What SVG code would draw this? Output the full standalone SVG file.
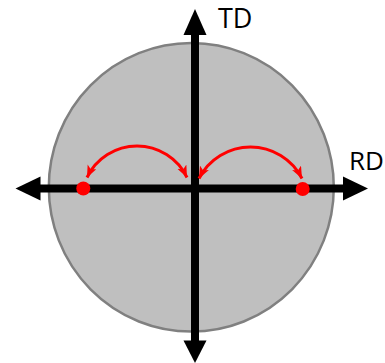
<svg xmlns="http://www.w3.org/2000/svg" width="385" height="363" viewBox="0 0 385 363">
<defs>
<style>
.axis{stroke:#000;stroke-width:8;fill:none}
.head{fill:#000}
.arc{stroke:#ff0000;stroke-width:3;fill:none;marker-start:url(#ra);marker-end:url(#ra)}
.dot{fill:#ff0000}
.lbl{font-family:"Open Sans","Liberation Sans",sans-serif;font-size:27px;fill:#000}
</style>
<marker id="ra" markerUnits="userSpaceOnUse" markerWidth="14" markerHeight="12" refX="12" refY="5" orient="auto-start-reverse" viewBox="0 0 14 12">
<path d="M0,0 L12,5 L0,10 L3,5 z" fill="#ff0000"/>
</marker>
</defs>
<g id="disc">
<ellipse cx="191.3" cy="187.3" rx="142.5" ry="144.3" fill="#bfbfbf" stroke="#808080" stroke-width="2.5"/>
</g>
<g id="connectors">
<line class="axis" x1="195" y1="34" x2="195" y2="341"/>
<polygon class="head" points="183.5,35 195,9 206.5,35"/>
<polygon class="head" points="183.5,340.5 195,363 206.5,340.5"/>
<line class="axis" x1="40" y1="188.5" x2="343" y2="188.5"/>
<polygon class="head" points="40.5,176.5 15.5,188.5 40.5,200.5"/>
<polygon class="head" points="343,176.5 368,188.5 343,200.5"/>
<path class="arc" d="M87,177.5 A55.4,55.4 0 0 1 187,177.5"/>
<path class="arc" d="M199,178.5 A57.8,57.8 0 0 1 302,178.5"/>
</g>
<g id="dot-left"><circle class="dot" cx="83.3" cy="188.5" r="7"/></g>
<g id="dot-right"><circle class="dot" cx="302.7" cy="189" r="7"/></g>
<g id="label-td"><text class="lbl" x="218" y="28.3">TD</text></g>
<g id="label-rd"><text class="lbl" x="349" y="169.5" style="font-size:26px">RD</text></g>
</svg>
